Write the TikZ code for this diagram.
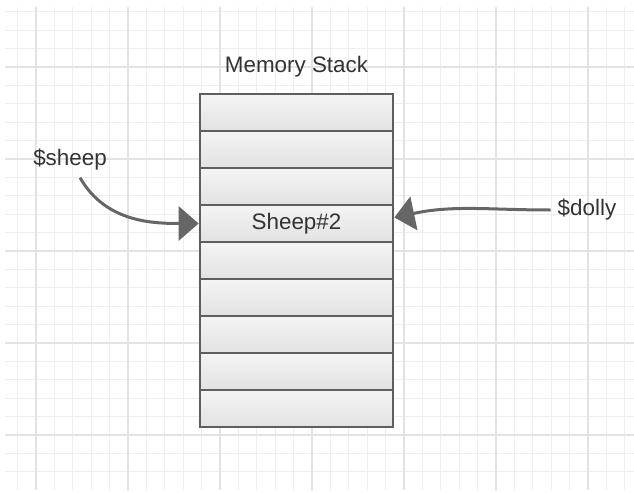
\documentclass[tikz,border=0pt]{standalone}
\usepackage{fontspec}
\setmainfont{Liberation Sans}
\usetikzlibrary{arrows.meta}
\definecolor{gridminor}{HTML}{EEEEEE}
\definecolor{gridmajor}{HTML}{E3E3E3}
\definecolor{stackline}{HTML}{5E5E5E}
\definecolor{cellhi}{HTML}{F4F4F4}
\definecolor{celllo}{HTML}{E2E2E2}
\definecolor{arrowgray}{HTML}{666666}
\definecolor{textgray}{HTML}{333333}

\begin{document}
\begin{tikzpicture}[x=0.5pt,y=-0.5pt,
cell/.style={rectangle,draw=stackline,line width=1.35pt,
minimum width=96.5pt,minimum height=18.5pt,inner sep=0pt,
top color=cellhi,bottom color=celllo,text=textgray,
font=\fontsize{11.2}{13}\selectfont},
lbl/.style={text=textgray,font=\fontsize{11.2}{13}\selectfont},
ptr/.style={draw=arrowgray,line width=1.5pt,
-{Triangle[length=10pt,width=17pt]}}]
\fill[white] (0,0) rectangle (634,493);
\useasboundingbox (0,0) rectangle (634,493);
% background grid
\foreach \k in {0,...,33}
\draw[gridminor,line width=0.5pt] ({17.6+18.4*\k},7) -- ({17.6+18.4*\k},490);
\foreach \k in {0,...,25}
\draw[gridminor,line width=0.5pt] (5,{11.8+18.4*\k}) -- (634,{11.8+18.4*\k});
\foreach \k in {0,...,6}
\draw[gridmajor,line width=0.6pt] ({36+92*\k},7) -- ({36+92*\k},490);
\foreach \k in {0,...,4}
\draw[gridmajor,line width=0.6pt] (5,{67+92*\k}) -- (634,{67+92*\k});
% stack
\node[lbl] (title) at (296.5,67) {Memory Stack};
\foreach \i in {1,2,3,5,6,7,8,9}
\node[cell] (cell\i) at (296.5,{94+37*(\i-0.5)}) {};
\node[cell] (cell4) at (296.5,223.5) {Sheep\#2};
% pointers
\node[lbl] (sheep) at (70,160) {\$sheep};
\node[lbl] (dolly) at (587,210) {\$dolly};
\draw[ptr] ([xshift=5pt]sheep.south) to[out=-60,in=180] (cell4.west);
\draw[ptr] (dolly.west) to[out=180,in=12] ([yshift=3pt]cell4.east);
\end{tikzpicture}
\end{document}
